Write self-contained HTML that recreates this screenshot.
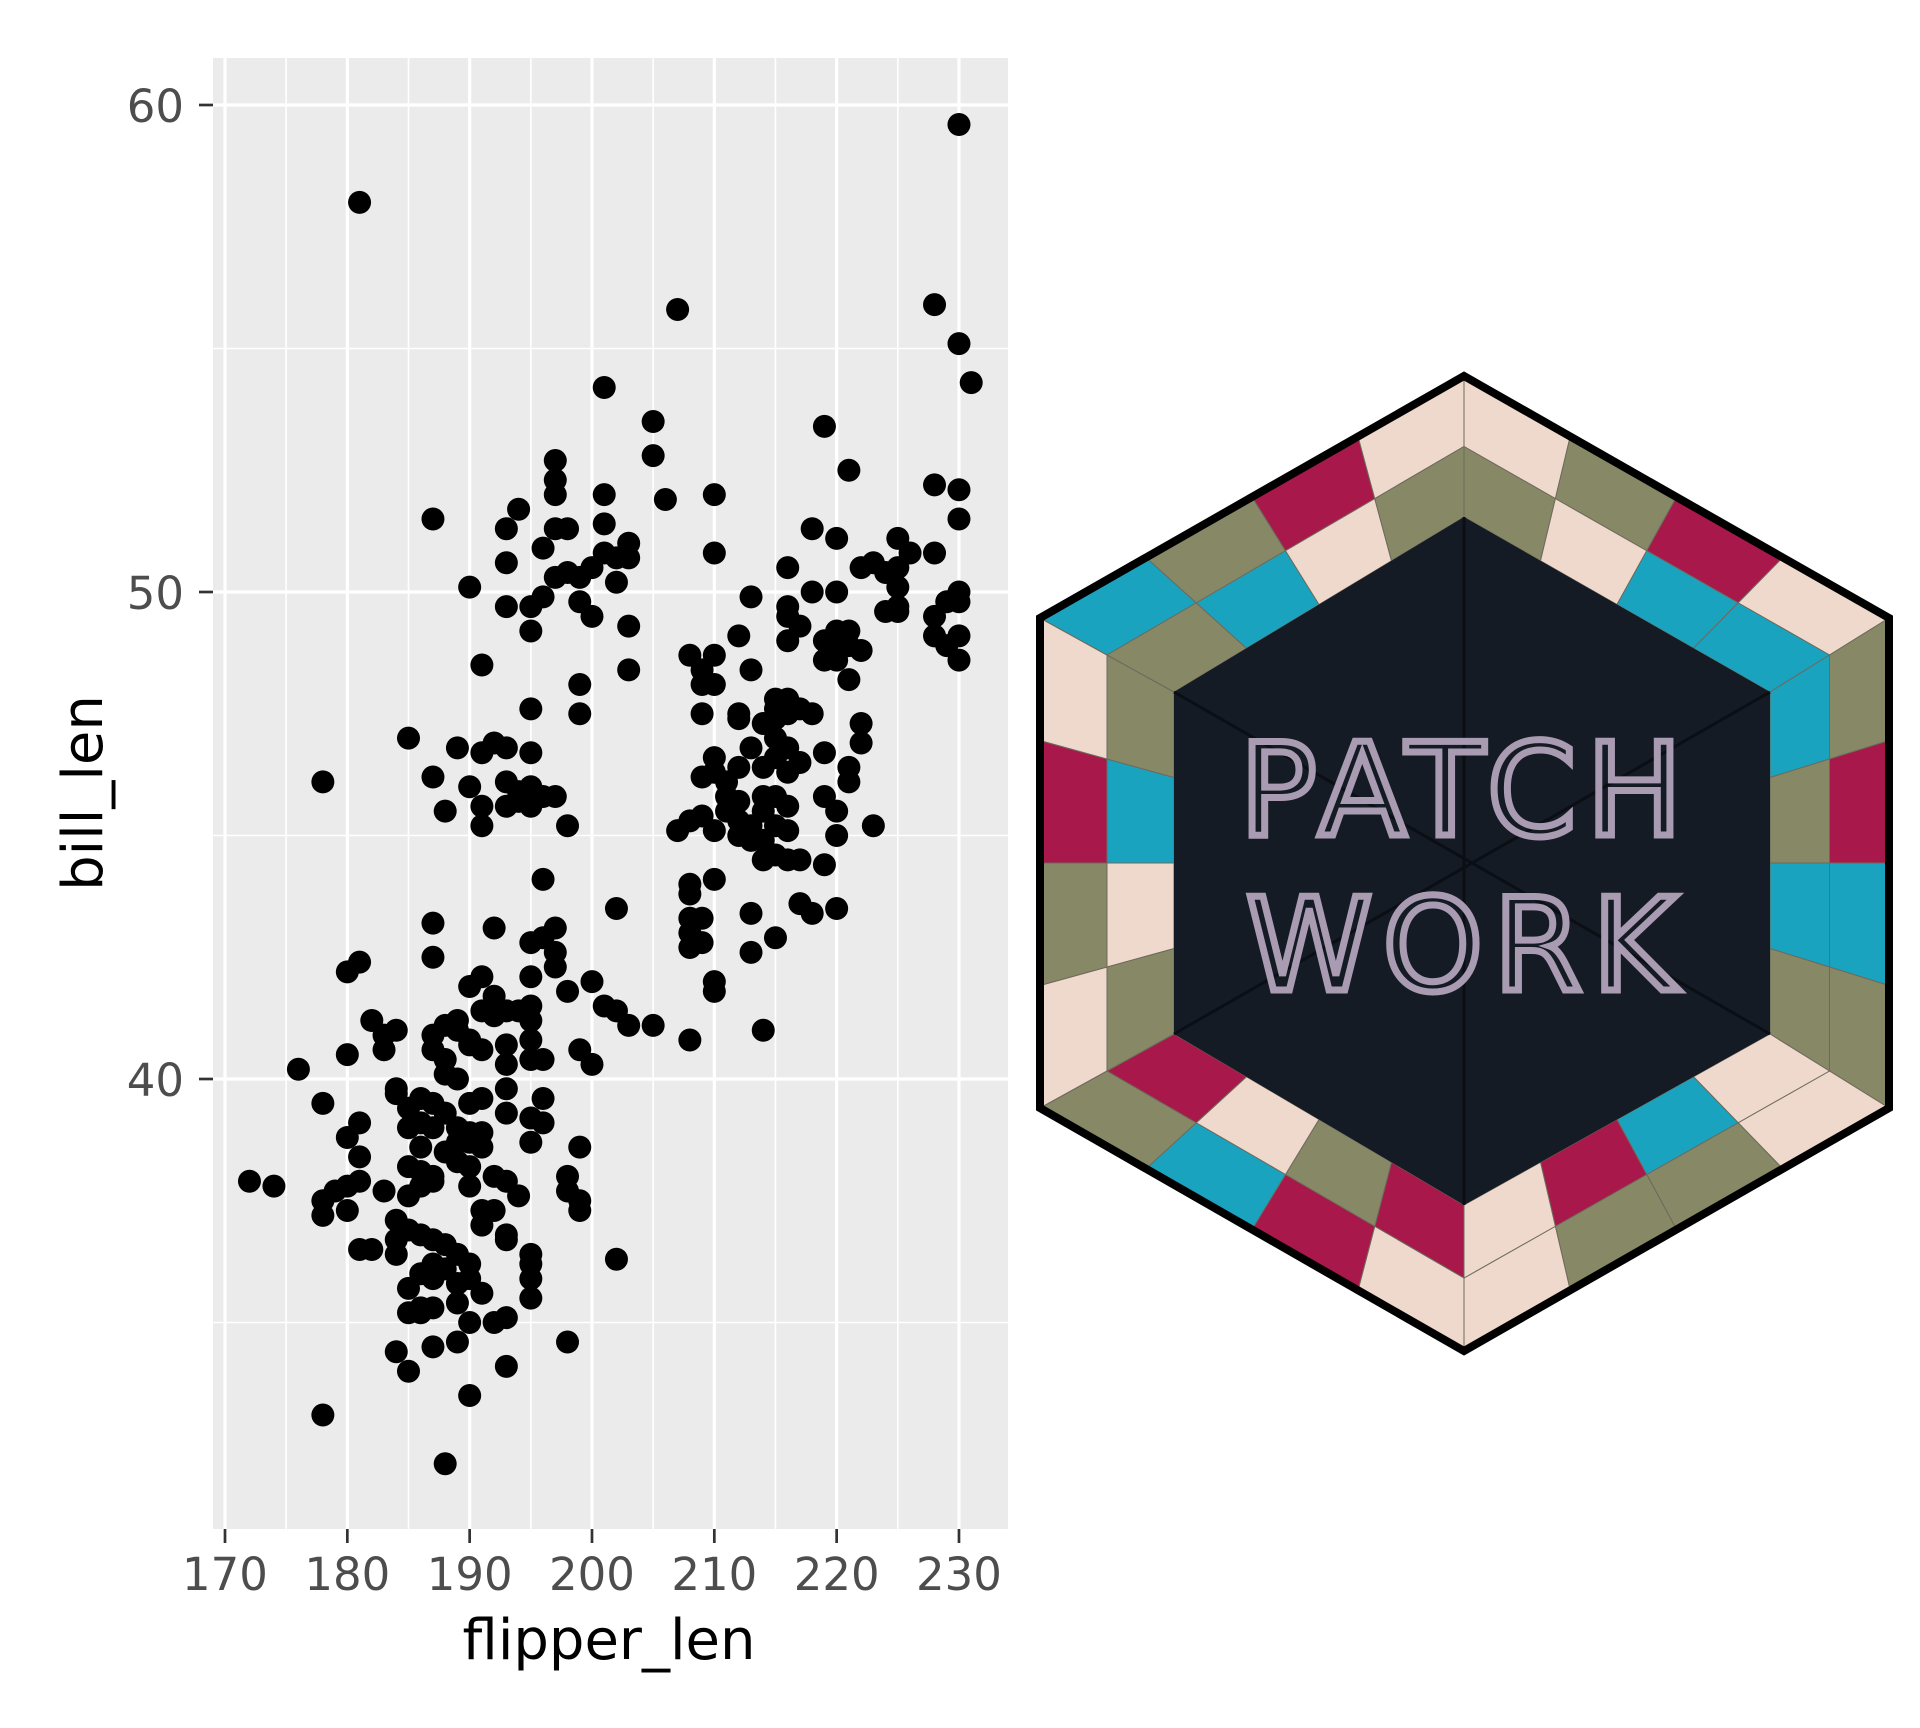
<!DOCTYPE html>
<html><head><meta charset="utf-8"><style>
html,body{margin:0;padding:0;background:#fff;}
svg{display:block;}
text{font-family:"DejaVu Sans","Liberation Sans",sans-serif;}
</style></head><body>
<svg id="root" width="1920" height="1728" viewBox="0 0 1920 1728" xmlns="http://www.w3.org/2000/svg">
<rect x="0" y="0" width="1920" height="1728" fill="#fff"/>
<rect x="213" y="58" width="795" height="1471" fill="#ebebeb"/>
<g id="grid"></g>
<g id="ticks"></g>
<g id="points"></g>
<text x="609" y="1659" font-size="56" text-anchor="middle" fill="#000">flipper_len</text>
<text x="0" y="0" font-size="56" text-anchor="middle" fill="#000" transform="translate(102,793) rotate(-90)">bill_len</text>
<g id="hex"></g>
</svg>
<script>
const xTickValues=[170,180,190,200,210,220,230];
const xMinorValues=[175,185,195,205,215,225];
const yTickValues=[40,50,60];
const yMinorValues=[35,45,55];
const flipper=[230,181,207,228,230,231,201,205,219,205,197,221,197,197,228,230,201,210,206,194,187,230,201,218,193,197,198,203,220,196,225,226,228,210,201,202,223,193,203,200,216,222,225,224,197,198,199,190,202,213,196,220,225,225,230,229,230,218,193,195,199,216,216,224,225,200,228,217,216,195,203,220,221,212,228,219,220,221,229,230,208,210,209,191,203,213,219,220,221,230,222,199,199,209,210,216,215,215,195,212,212,209,215,214,216,217,218,222,222,185,189,192,193,191,195,215,216,213,210,210,212,215,217,214,216,219,221,221,178,187,190,193,194,195,196,197,191,193,194,195,209,211,211,212,211,214,215,216,214,219,220,188,191,198,208,207,210,212,213,209,212,213,215,216,214,215,216,223,220,217,214,219,196,210,208,208,202,213,217,218,220,208,209,208,187,192,197,196,215,195,197,208,209,213,187,181,180,197,195,210,210,198,200,191,190,192,193,191,192,189,201,202,195,194,195,182,183,184,187,188,189,190,203,205,214,208,193,195,187,190,191,180,183,199,188,193,195,196,200,176,188,189,193,191,190,188,193,184,184,186,187,185,178,196,195,196,181,180,189,190,191,187,185,186,189,190,191,186,188,189,190,195,199,181,185,186,187,172,174,178,179,180,181,183,185,186,187,190,192,193,194,198,198,199,199,178,180,181,182,184,184,184,185,186,191,192,191,193,193,187,188,187,188,186,187,189,190,190,189,191,195,195,195,195,185,186,187,185,186,189,190,192,193,202,198,189,187,184,185,193,190,178,188];
const billLen=[59.6,58.0,55.8,55.9,55.1,54.3,54.2,53.5,53.4,52.8,52.7,52.5,52.3,52.0,52.2,52.1,52.0,52.0,51.9,51.7,51.5,51.5,51.4,51.3,51.3,51.3,51.3,51.0,51.1,50.9,51.1,50.8,50.8,50.8,50.8,50.7,50.6,50.6,50.7,50.5,50.5,50.5,50.5,50.4,50.3,50.4,50.3,50.1,50.2,49.9,49.9,50.0,50.1,49.7,50.0,49.8,49.8,50.0,49.7,49.7,49.8,49.7,49.5,49.6,49.6,49.5,49.5,49.3,49.0,49.2,49.3,49.2,49.2,49.1,49.1,49.0,48.8,48.9,48.9,49.1,48.7,48.7,48.4,48.5,48.4,48.4,48.6,48.6,48.2,48.6,48.8,48.1,47.5,48.1,48.1,47.8,47.8,47.6,47.6,47.5,47.4,47.5,47.4,47.3,47.5,47.6,47.5,47.3,46.9,47.0,46.8,46.9,46.8,46.7,46.7,47.0,46.8,46.8,46.6,46.3,46.4,46.6,46.5,46.4,46.3,46.7,46.4,46.1,46.1,46.2,46.0,46.1,45.9,46.0,45.8,45.8,45.6,45.6,45.7,45.6,46.2,46.1,45.8,45.7,45.5,45.8,45.8,45.6,45.5,45.8,45.5,45.5,45.2,45.2,45.3,45.1,45.1,45.0,44.9,45.4,45.3,45.2,45.2,45.1,44.9,44.6,44.5,45.2,45.0,44.5,44.5,44.4,44.1,44.1,44.0,43.8,43.5,43.4,43.6,43.4,43.5,43.3,43.3,43.0,43.2,43.1,43.1,42.9,42.9,42.8,42.6,42.7,42.8,42.6,42.5,42.4,42.2,42.3,42.1,42.0,41.8,41.8,42.0,42.1,41.9,41.7,41.4,41.4,41.3,41.2,41.5,41.4,41.5,41.4,41.2,41.2,40.9,41.0,40.9,41.1,41.0,40.8,41.1,41.1,41.0,40.8,40.7,40.8,40.6,40.7,40.6,40.5,40.6,40.6,40.4,40.3,40.4,40.4,40.3,40.2,40.1,40.0,39.8,39.6,39.5,39.3,39.3,39.8,39.7,39.6,39.5,39.4,39.5,39.6,39.2,39.1,39.1,38.8,39.0,38.9,38.9,39.0,39.0,39.1,38.7,38.7,38.6,38.6,38.5,38.3,38.2,38.7,38.6,38.4,38.2,38.1,38.0,37.9,37.8,37.5,37.7,37.8,37.9,37.7,37.6,37.8,37.9,37.8,38.0,37.9,37.6,38.0,37.7,37.5,37.3,37.2,37.3,36.5,36.5,37.1,36.7,36.4,36.9,36.8,37.3,37.3,37.0,36.8,36.7,36.7,36.6,36.2,36.1,36.0,35.9,36.4,36.2,35.9,35.8,35.6,36.4,36.2,35.9,35.5,35.7,35.3,35.3,35.2,35.2,35.4,35.0,35.0,35.1,36.3,34.6,34.6,34.5,34.4,34.0,34.1,33.5,33.1,32.1];

const NS='http://www.w3.org/2000/svg';
const P={l:213,r:1008,t:58,b:1529};
function xScale(v){return 225+(v-170)*12.233;}
function yScale(v){return 105+(60-v)*48.7;}
function mk(tag,attrs,parent){const e=document.createElementNS(NS,tag);for(const k in attrs)e.setAttribute(k,attrs[k]);parent.appendChild(e);return e;}

const grid=document.getElementById('grid');
const ticks=document.getElementById('ticks');
xMinorValues.forEach(v=>{const l=mk('line',{x1:xScale(v),x2:xScale(v),y1:P.t,y2:P.b,stroke:'#fff','stroke-width':1.6},grid);

});
yMinorValues.forEach(v=>{const l=mk('line',{x1:P.l,x2:P.r,y1:yScale(v),y2:yScale(v),stroke:'#fff','stroke-width':1.6},grid);

});
xTickValues.forEach(v=>{const x=xScale(v);
const l=mk('line',{x1:x,x2:x,y1:P.t,y2:P.b,stroke:'#fff','stroke-width':3.2},grid);


const t=mk('line',{x1:x,x2:x,y1:P.b,y2:P.b+14,stroke:'#333','stroke-width':2.7},ticks);


const lb=mk('text',{x:x,y:1590,'font-size':45,'text-anchor':'middle',fill:'#4d4d4d'},ticks);lb.textContent=v;

});
yTickValues.forEach(v=>{const y=yScale(v);
const l=mk('line',{x1:P.l,x2:P.r,y1:y,y2:y,stroke:'#fff','stroke-width':3.2},grid);


const t=mk('line',{x1:P.l-14,x2:P.l,y1:y,y2:y,stroke:'#333','stroke-width':2.7},ticks);


const lb=mk('text',{x:184,y:y+17,'font-size':45,'text-anchor':'end',fill:'#4d4d4d'},ticks);lb.textContent=v;

});

const pts=document.getElementById('points');
for(let i=0;i<flipper.length;i++){
const c=mk('circle',{cx:xScale(flipper[i]),cy:yScale(billLen[i]),r:11.5,fill:'#000'},pts);

}

const hex=document.getElementById('hex');
const O=[[1464,376],[1889,618],[1889,1108],[1464,1351],[1040,1108],[1040,618]];
function lerp(a,b,t){return [a[0]+(b[0]-a[0])*t,a[1]+(b[1]-a[1])*t];}
const I=[[1464,517],[1770,692],[1770,1034],[1464,1205],[1174,1034],[1174,692]];
const M=O.map((p,i)=>lerp(p,I[i],0.5));
const cr='#efd9cc',ol='#878866',te='#1aa3bf',rd='#a8184a';
const outerCols=[[cr,ol,rd,cr],[ol,rd,te,ol],[cr,ol,ol,cr],[cr,rd,te,ol],[cr,ol,rd,cr],[te,ol,rd,cr]];
const innerCols=[[ol,cr,te,te],[te,ol,te,ol],[cr,te,rd,cr],[rd,ol,cr,rd],[ol,cr,te,ol],[ol,te,cr,ol]];
function band(A,B,cols,name){
for(let s=0;s<6;s++){const a0=A[s],a1=A[(s+1)%6],b0=B[s],b1=B[(s+1)%6];
for(let k=0;k<4;k++){const t0=k/4,t1=(k+1)/4;
const p=[lerp(a0,a1,t0),lerp(a0,a1,t1),lerp(b0,b1,t1),lerp(b0,b1,t0)];
const poly=mk('polygon',{points:p.map(q=>q.join(',')).join(' '),fill:cols[s][k],stroke:'#6d6a5c','stroke-width':1},hex);

}}}
band(O,M,outerCols,'quilt-outer-patch');
band(M,I,innerCols,'quilt-inner-patch');
const inner=mk('polygon',{points:I.map(q=>q.join(',')).join(' '),fill:'#151b24'},hex);


[[I[0],I[3]],[I[5],I[2]],[I[1],I[4]]].forEach(s=>{const l=mk('line',{x1:s[0][0],y1:s[0][1],x2:s[1][0],y2:s[1][1],stroke:'#0b0f15','stroke-width':3},hex);

});
const t1=mk('text',{x:1466,y:835,'font-size':128,'text-anchor':'middle',fill:'none',stroke:'#a99cb2','stroke-width':7,'letter-spacing':10,'font-family':'Liberation Sans, sans-serif'},hex);t1.textContent='PATCH';


const t2=mk('text',{x:1466,y:990,'font-size':128,'text-anchor':'middle',fill:'none',stroke:'#a99cb2','stroke-width':7,'letter-spacing':10,'font-family':'Liberation Sans, sans-serif'},hex);t2.textContent='WORK';


const border=mk('polygon',{points:O.map(q=>q.join(',')).join(' '),fill:'none',stroke:'#000','stroke-width':8,'stroke-linejoin':'miter'},hex);


</script>
</body></html>
